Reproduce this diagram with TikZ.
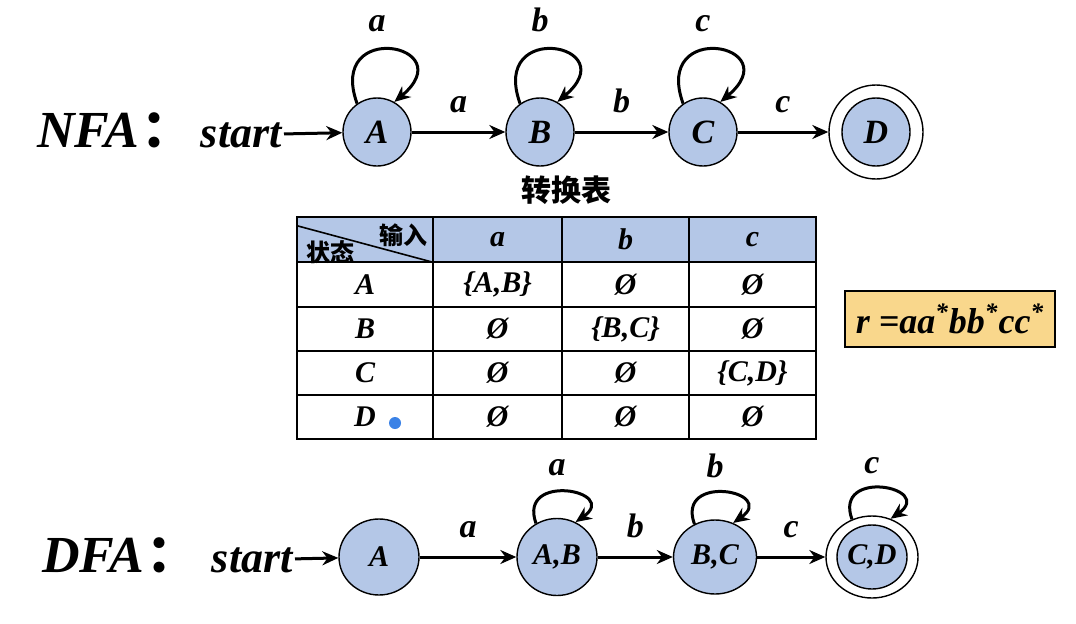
\documentclass[tikz,border=0pt]{standalone}
\usepackage{fontspec}
\setmainfont{Liberation Serif}
\newfontfamily\cjk{Noto Sans CJK SC}
\usetikzlibrary{arrows.meta,shapes.geometric,positioning}
\definecolor{stateblue}{RGB}{180,199,231}
\definecolor{boxgold}{RGB}{249,215,140}
\definecolor{dotblue}{RGB}{59,130,230}

\tikzset{
  state/.style={circle,draw,fill=stateblue,line width=0.7pt,minimum size=34pt,inner sep=0pt,
    font=\fontsize{17}{17}\selectfont\bfseries\itshape},
  dstate/.style={ellipse,draw,fill=stateblue,line width=0.7pt,inner sep=0pt,
    font=\fontsize{15}{15}\selectfont\bfseries\itshape},
  trans/.style={-{Stealth[length=8pt,width=7pt]},line width=1.5pt},
  lbl/.style={font=\fontsize{17}{17}\selectfont\bfseries\itshape,inner sep=0pt},
  big/.style={font=\fontsize{26}{26}\selectfont\bfseries\itshape,inner sep=0pt},
  startlbl/.style={font=\fontsize{22}{22}\selectfont\bfseries\itshape,inner sep=1pt},
  cell/.style={font=\fontsize{15}{15}\selectfont\bfseries\itshape,inner sep=0pt},
  cjkcell/.style={font=\fontsize{12}{12}\selectfont\cjk\bfseries,inner sep=0pt},
}

\begin{document}
\begin{tikzpicture}[x=0.5pt,y=0.5pt]
\useasboundingbox (0,0) rectangle (1076,623);

\node[big,anchor=base west] (nfa) at (37,476) {NFA\hspace{1pt}{\cjk ：}};
\node[startlbl,anchor=base east] (s1) at (284,476) {start};
\node[state] (A) at (377,491) {A};
\node[state] (B) at (540,491) {B};
\node[state] (C) at (703,491) {C};
\node[state] (D) at (876,491) {D};
\node[circle,draw,line width=0.7pt,minimum size=47pt] (Dout) at (D) {};

\draw[trans] (s1) -- (A);
\draw[trans] (A) -- node[lbl,above=9pt] (ab) {a} (B);
\draw[trans] (B) -- node[lbl,above=9pt] (bc) {b} (C);
\draw[trans] (C) -- node[lbl,above=9pt] (cd) {c} (Dout);

\draw[trans] (A.125) .. controls +(110:90) and +(40:90) .. (A.60);
\draw[trans] (B.125) .. controls +(110:90) and +(40:90) .. (B.60);
\draw[trans] (C.125) .. controls +(110:90) and +(40:90) .. (C.60);
\node[lbl,anchor=base] (la) at ([yshift=33pt]A.north) {a};
\node[lbl,anchor=base] (lb) at ([yshift=33pt]B.north) {b};
\node[lbl,anchor=base] (lc) at ([yshift=33pt]C.north) {c};

\node[font=\fontsize{15}{15}\selectfont\cjk\bfseries] (title) at (566,433) {转换表};

\fill[stateblue] (297,406) rectangle (816,361);
\draw[line width=1pt] (297,184) rectangle (816,406);
\foreach \x in {433,562,689} \draw[line width=1pt] (\x,184) -- (\x,406);
\foreach \y in {361,316,272,228} \draw[line width=1pt] (297,\y) -- (816,\y);
\draw[line width=0.8pt] (298,397) -- (432,361);
\node[cjkcell] (inp) at (403,388) {输入};
\node[cjkcell] (sta) at (330,371) {状态};
\node[cell] (ha) at (497.5,383.5) {a};
\node[cell] (hb) at (625.5,383.5) {b};
\node[cell] (hc) at (752.5,383.5) {c};
\foreach \r/\y/\s/\ca/\cb/\cc in {1/338.5/A/{\{A,B\}}/Ø/Ø, 2/294/B/Ø/{\{B,C\}}/Ø,
    3/250/C/Ø/Ø/{\{C,D\}}, 4/206/D/Ø/Ø/Ø}{
  \node[cell] (r\r-0) at (365,\y) {\s};
  \node[cell] (r\r-1) at (497.5,\y) {\ca};
  \node[cell] (r\r-2) at (625.5,\y) {\cb};
  \node[cell] (r\r-3) at (752.5,\y) {\cc};
}
\node[circle,fill=dotblue,minimum size=6pt,inner sep=0pt] (dot) at (395,200) {};

\node[draw,fill=boxgold,line width=0.8pt,minimum width=105pt,minimum height=28pt,
  font=\fontsize{18}{18}\selectfont\bfseries\itshape] (regex) at (950,304)
  {r =aa\textsuperscript{*}bb\textsuperscript{*}cc\textsuperscript{*}};

\node[big,anchor=base west] (dfa) at (42,51) {DFA\hspace{1pt}{\cjk ：}};
\node[startlbl,anchor=base east] (s2) at (295,51) {start};
\node[dstate,minimum width=40pt,minimum height=38pt] (dA) at (379,66) {A};
\node[dstate,minimum width=40pt,minimum height=38.5pt] (dAB) at (557,66) {A,B};
\node[dstate,minimum width=41.5pt,minimum height=37pt] (dBC) at (715,66) {B,C};
\node[dstate,minimum width=35pt,minimum height=32pt] (dCD) at (872,66) {C,D};
\node[ellipse,draw,line width=0.7pt,minimum width=46pt,minimum height=41pt] (dCDout) at (dCD) {};

\draw[trans] (s2) -- (dA);
\draw[trans] (dA) -- node[lbl,above=9pt] (dab) {a} (dAB);
\draw[trans] (dAB) -- node[lbl,above=9pt] (dbc) {b} (dBC);
\draw[trans] (dBC) -- node[lbl,above=9pt] (dcd) {c} (dCDout);

\draw[trans] (dAB.122) .. controls +(110:55) and +(35:55) .. (dAB.62);
\draw[trans] (dBC.122) .. controls +(110:55) and +(35:55) .. (dBC.62);
\draw[trans] (dCDout.118) .. controls +(110:55) and +(35:55) .. (dCDout.64);
\node[lbl,anchor=base] (dla) at ([yshift=21pt]dAB.north) {a};
\node[lbl,anchor=base] (dlb) at ([yshift=21pt]dBC.north) {b};
\node[lbl,anchor=base] (dlc) at ([yshift=21pt]dCDout.north) {c};

\end{tikzpicture}
\end{document}
